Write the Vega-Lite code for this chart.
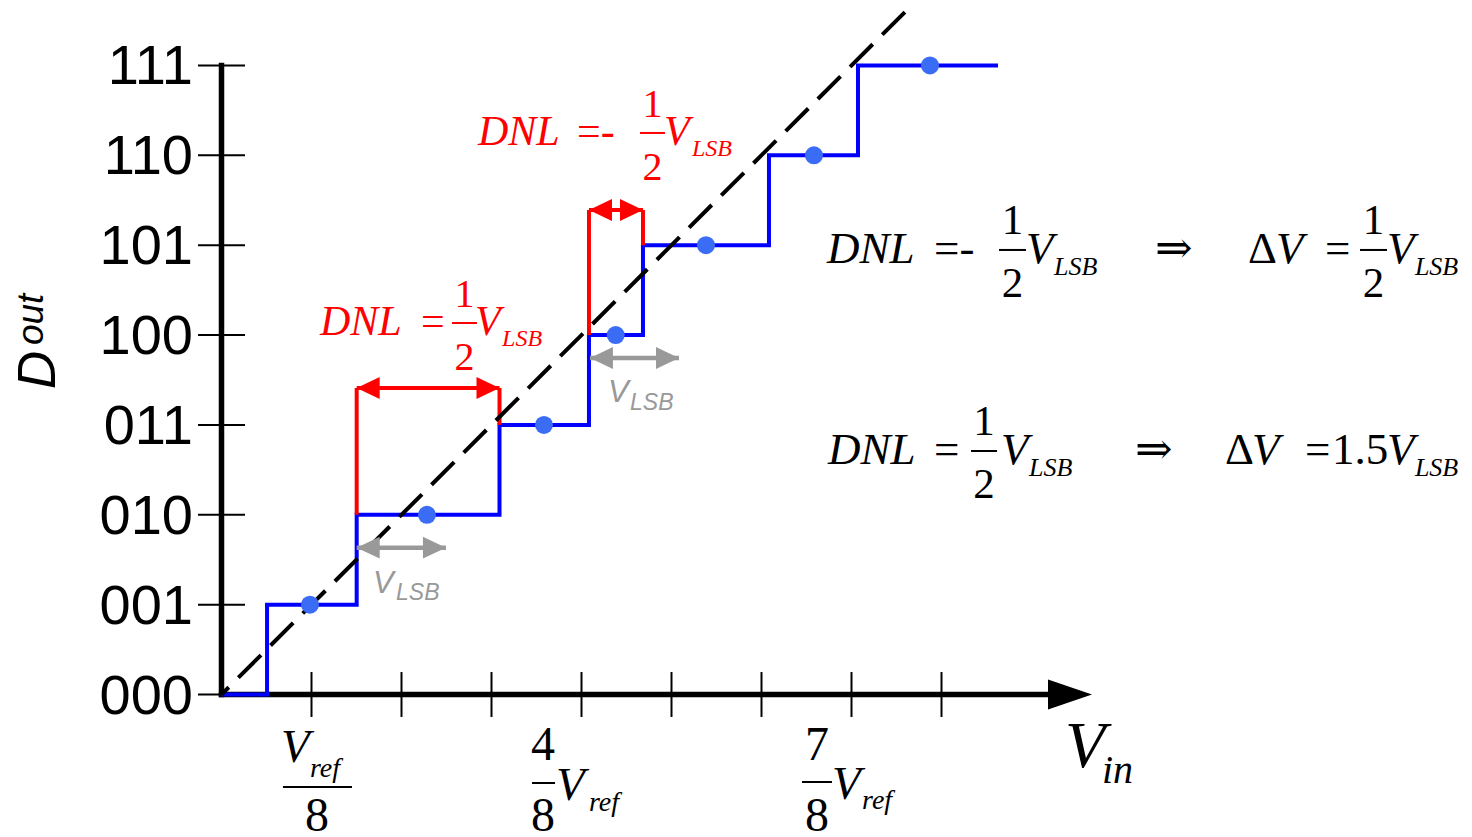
{
  "$schema": "https://vega.github.io/schema/vega-lite/v6.json",
  "width": 1472,
  "height": 837,
  "autosize": "none",
  "padding": 0,
  "background": "white",
  "config": {"view": {"stroke": null}},
  "encoding": {
    "x": {"field": "x", "type": "quantitative", "scale": {"domain": [-2.4611, 13.8944], "nice": false, "zero": false}, "axis": null},
    "y": {"field": "y", "type": "quantitative", "scale": {"domain": [-1.5858, 7.7287], "nice": false, "zero": false}, "axis": null}
  },
  "layer": [
    {
      "description": "axis lines (input voltage in LSB units, output code)",
      "data": {"values": [
        {"x": 0, "y": -0.03, "x2": 0, "y2": 7.03},
        {"x": -0.03, "y": 0, "x2": 9.25, "y2": 0}
      ]},
      "mark": {"type": "rule", "color": "#000000", "strokeWidth": 5.5},
      "encoding": {"x2": {"field": "x2"}, "y2": {"field": "y2"}}
    },
    {
      "description": "tick marks",
      "data": {"values": [
        {"x": -0.261, "x2": 0.261, "y": 0, "y2": 0},
        {"x": -0.261, "x2": 0.261, "y": 1, "y2": 1},
        {"x": -0.261, "x2": 0.261, "y": 2, "y2": 2},
        {"x": -0.261, "x2": 0.261, "y": 3, "y2": 3},
        {"x": -0.261, "x2": 0.261, "y": 4, "y2": 4},
        {"x": -0.261, "x2": 0.261, "y": 5, "y2": 5},
        {"x": -0.261, "x2": 0.261, "y": 6, "y2": 6},
        {"x": -0.261, "x2": 0.261, "y": 7, "y2": 7},
        {"x": 1, "x2": 1, "y": -0.25, "y2": 0.25},
        {"x": 2, "x2": 2, "y": -0.25, "y2": 0.25},
        {"x": 3, "x2": 3, "y": -0.25, "y2": 0.25},
        {"x": 4, "x2": 4, "y": -0.25, "y2": 0.25},
        {"x": 5, "x2": 5, "y": -0.25, "y2": 0.25},
        {"x": 6, "x2": 6, "y": -0.25, "y2": 0.25},
        {"x": 7, "x2": 7, "y": -0.25, "y2": 0.25},
        {"x": 8, "x2": 8, "y": -0.25, "y2": 0.25}
      ]},
      "mark": {"type": "rule", "color": "#000000", "strokeWidth": 2},
      "encoding": {"x2": {"field": "x2"}, "y2": {"field": "y2"}}
    },
    {
      "description": "ADC transfer characteristic (staircase)",
      "data": {"values": [
        {"i": 0, "x": 0, "y": 0},
        {"i": 1, "x": 0.506, "y": 0},
        {"i": 2, "x": 0.506, "y": 1},
        {"i": 3, "x": 1.502, "y": 1},
        {"i": 4, "x": 1.502, "y": 2},
        {"i": 5, "x": 3.089, "y": 2},
        {"i": 6, "x": 3.089, "y": 3},
        {"i": 7, "x": 4.083, "y": 3},
        {"i": 8, "x": 4.083, "y": 4},
        {"i": 9, "x": 4.683, "y": 4},
        {"i": 10, "x": 4.683, "y": 5},
        {"i": 11, "x": 6.083, "y": 5},
        {"i": 12, "x": 6.083, "y": 6},
        {"i": 13, "x": 7.072, "y": 6},
        {"i": 14, "x": 7.072, "y": 7},
        {"i": 15, "x": 8.628, "y": 7}
      ]},
      "mark": {"type": "line", "color": "#0000ff", "strokeWidth": 4, "strokeJoin": "miter"},
      "encoding": {"order": {"field": "i", "type": "quantitative"}}
    },
    {
      "description": "DNL brackets",
      "data": {"values": [
        {"x": 1.502, "y": 2, "x2": 1.502, "y2": 3.411},
        {"x": 3.089, "y": 3, "x2": 3.089, "y2": 3.411},
        {"x": 1.502, "y": 3.411, "x2": 3.089, "y2": 3.411},
        {"x": 4.083, "y": 4, "x2": 4.083, "y2": 5.392},
        {"x": 4.683, "y": 5, "x2": 4.683, "y2": 5.392},
        {"x": 4.083, "y": 5.392, "x2": 4.683, "y2": 5.392}
      ]},
      "mark": {"type": "rule", "color": "#ff0000", "strokeWidth": 4},
      "encoding": {"x2": {"field": "x2"}, "y2": {"field": "y2"}}
    },
    {
      "description": "one-LSB reference spans",
      "data": {"values": [
        {"x": 1.502, "y": 1.634, "x2": 2.494, "y2": 1.634},
        {"x": 4.094, "y": 3.745, "x2": 5.083, "y2": 3.745}
      ]},
      "mark": {"type": "rule", "color": "#999999", "strokeWidth": 4.5},
      "encoding": {"x2": {"field": "x2"}, "y2": {"field": "y2"}}
    },
    {
      "description": "ideal transfer line",
      "data": {"values": [
        {"x": 0, "y": 0},
        {"x": 7.594, "y": 7.595}
      ]},
      "mark": {"type": "line", "color": "#000000", "strokeWidth": 4, "strokeDash": [32, 13.5], "strokeDashOffset": 21.7},
      "encoding": {}
    },
    {
      "description": "DNL arrow heads",
      "data": {"values": [
        {"x": 1.502, "y": 3.411, "dir": "left"},
        {"x": 3.089, "y": 3.411, "dir": "right"},
        {"x": 4.083, "y": 5.392, "dir": "left"},
        {"x": 4.683, "y": 5.392, "dir": "right"}
      ]},
      "mark": {"type": "point", "filled": true, "color": "#ff0000", "opacity": 1, "size": 529, "strokeWidth": 0},
      "encoding": {"shape": {"field": "dir", "type": "nominal", "legend": null, "scale": {"domain": ["left", "right"], "range": ["M 0 0 L 2 -0.95 L 2 0.95 Z", "M 0 0 L -2 -0.95 L -2 0.95 Z"]}}}
    },
    {
      "description": "LSB arrow heads",
      "data": {"values": [
        {"x": 1.502, "y": 1.634, "dir": "left"},
        {"x": 2.494, "y": 1.634, "dir": "right"},
        {"x": 4.094, "y": 3.745, "dir": "left"},
        {"x": 5.083, "y": 3.745, "dir": "right"}
      ]},
      "mark": {"type": "point", "filled": true, "color": "#999999", "opacity": 1, "size": 529, "strokeWidth": 0},
      "encoding": {"shape": {"field": "dir", "type": "nominal", "legend": null, "scale": {"domain": ["left", "right"], "range": ["M 0 0 L 2 -0.95 L 2 0.95 Z", "M 0 0 L -2 -0.95 L -2 0.95 Z"]}}}
    },
    {
      "description": "arrow head of the input axis",
      "data": {"values": [{"x": 9.428, "y": 0}]},
      "mark": {"type": "point", "filled": true, "color": "#000000", "opacity": 1, "size": 1936, "strokeWidth": 0, "shape": "M -1 -0.68 L 1 0 L -1 0.68 Z"}
    },
    {
      "description": "code centre points",
      "data": {"values": [
        {"x": 0.983, "y": 1},
        {"x": 2.283, "y": 2},
        {"x": 3.583, "y": 3},
        {"x": 4.38, "y": 4},
        {"x": 5.383, "y": 5},
        {"x": 6.583, "y": 6},
        {"x": 7.872, "y": 7}
      ]},
      "mark": {"type": "point", "shape": "circle", "filled": true, "color": "#3b6cf5", "opacity": 1, "size": 324, "strokeWidth": 0}
    },
    {
      "description": "fraction bars",
      "data": {"values": [
        {"x": 4.65, "x2": 4.928, "y": 6.249, "ink": "red"},
        {"x": 2.561, "x2": 2.839, "y": 4.134, "ink": "red"},
        {"x": 8.639, "x2": 8.939, "y": 4.947, "ink": "black"},
        {"x": 12.65, "x2": 12.95, "y": 4.947, "ink": "black"},
        {"x": 8.328, "x2": 8.617, "y": 2.71, "ink": "black"},
        {"x": 0.683, "x2": 1.45, "y": -1.029, "ink": "black"},
        {"x": 3.45, "x2": 3.706, "y": -0.985, "ink": "black"},
        {"x": 6.45, "x2": 6.783, "y": -0.974, "ink": "black"}
      ]},
      "mark": {"type": "rule", "strokeWidth": 2},
      "encoding": {
        "x2": {"field": "x2"},
        "color": {"field": "ink", "type": "nominal", "legend": null, "scale": {"domain": ["red", "black"], "range": ["#ff0000", "#000000"]}}
      }
    },
    {
      "data": {"values": [
        {"x": 2.85, "y": 6.115, "t": "DNL"},
        {"x": 4.917, "y": 6.115, "t": "V"},
        {"x": 1.094, "y": 4.0, "t": "DNL"},
        {"x": 2.817, "y": 4.0, "t": "V"}
      ]},
      "mark": {"type": "text", "font": "Liberation Serif", "fontStyle": "italic", "fontSize": 42, "color": "#ff0000", "align": "left", "baseline": "alphabetic"},
      "encoding": {"text": {"field": "t"}}
    },
    {
      "data": {"values": [
        {"x": 3.95, "y": 6.115, "t": "=-"},
        {"x": 2.217, "y": 4.0, "t": "="}
      ]},
      "mark": {"type": "text", "font": "Liberation Serif", "fontSize": 42, "color": "#ff0000", "align": "left", "baseline": "alphabetic"},
      "encoding": {"text": {"field": "t"}}
    },
    {
      "data": {"values": [
        {"x": 4.789, "y": 6.427, "t": "1"},
        {"x": 4.789, "y": 5.726, "t": "2"},
        {"x": 2.7, "y": 4.312, "t": "1"},
        {"x": 2.7, "y": 3.611, "t": "2"}
      ]},
      "mark": {"type": "text", "font": "Liberation Serif", "fontSize": 40, "color": "#ff0000", "align": "center", "baseline": "alphabetic"},
      "encoding": {"text": {"field": "t"}}
    },
    {
      "data": {"values": [
        {"x": 5.228, "y": 5.993, "t": "LSB"},
        {"x": 3.117, "y": 3.878, "t": "LSB"}
      ]},
      "mark": {"type": "text", "font": "Liberation Serif", "fontStyle": "italic", "fontSize": 24, "color": "#ff0000", "align": "left", "baseline": "alphabetic"},
      "encoding": {"text": {"field": "t"}}
    },
    {
      "data": {"values": [
        {"x": 6.728, "y": 4.802, "t": "DNL"},
        {"x": 8.939, "y": 4.802, "t": "V"},
        {"x": 11.717, "y": 4.802, "t": "V"},
        {"x": 12.95, "y": 4.802, "t": "V"},
        {"x": 6.739, "y": 2.565, "t": "DNL"},
        {"x": 8.661, "y": 2.565, "t": "V"},
        {"x": 11.45, "y": 2.565, "t": "V"},
        {"x": 12.95, "y": 2.565, "t": "V"}
      ]},
      "mark": {"type": "text", "font": "Liberation Serif", "fontStyle": "italic", "fontSize": 45, "color": "#000000", "align": "left", "baseline": "alphabetic"},
      "encoding": {"text": {"field": "t"}}
    },
    {
      "data": {"values": [
        {"x": 7.917, "y": 4.802, "t": "=-"},
        {"x": 10.372, "y": 4.802, "t": "⇒"},
        {"x": 11.406, "y": 4.802, "t": "Δ"},
        {"x": 12.261, "y": 4.802, "t": "="},
        {"x": 7.917, "y": 2.565, "t": "="},
        {"x": 10.15, "y": 2.565, "t": "⇒"},
        {"x": 11.15, "y": 2.565, "t": "Δ"},
        {"x": 12.04, "y": 2.565, "t": "="},
        {"x": 12.34, "y": 2.565, "t": "1.5"}
      ]},
      "mark": {"type": "text", "font": "Liberation Serif, DejaVu Serif", "fontSize": 45, "color": "#000000", "align": "left", "baseline": "alphabetic"},
      "encoding": {"text": {"field": "t"}}
    },
    {
      "data": {"values": [
        {"x": 8.789, "y": 5.125, "t": "1"},
        {"x": 8.789, "y": 4.424, "t": "2"},
        {"x": 12.8, "y": 5.125, "t": "1"},
        {"x": 12.8, "y": 4.424, "t": "2"},
        {"x": 8.472, "y": 2.888, "t": "1"},
        {"x": 8.472, "y": 2.187, "t": "2"}
      ]},
      "mark": {"type": "text", "font": "Liberation Serif", "fontSize": 43, "color": "#000000", "align": "center", "baseline": "alphabetic"},
      "encoding": {"text": {"field": "t"}}
    },
    {
      "data": {"values": [
        {"x": 9.25, "y": 4.669, "t": "LSB"},
        {"x": 13.26, "y": 4.669, "t": "LSB"},
        {"x": 8.972, "y": 2.432, "t": "LSB"},
        {"x": 13.26, "y": 2.432, "t": "LSB"}
      ]},
      "mark": {"type": "text", "font": "Liberation Serif", "fontStyle": "italic", "fontSize": 26, "color": "#000000", "align": "left", "baseline": "alphabetic"},
      "encoding": {"text": {"field": "t"}}
    },
    {
      "data": {"values": [
        {"x": 1.683, "y": 1.13, "t": "V"},
        {"x": 4.294, "y": 3.255, "t": "V"}
      ]},
      "mark": {"type": "text", "font": "Liberation Sans", "fontStyle": "italic", "fontSize": 31, "color": "#999999", "align": "left", "baseline": "alphabetic"},
      "encoding": {"text": {"field": "t"}}
    },
    {
      "data": {"values": [
        {"x": 1.939, "y": 1.052, "t": "LSB"},
        {"x": 4.539, "y": 3.166, "t": "LSB"}
      ]},
      "mark": {"type": "text", "font": "Liberation Sans", "fontStyle": "italic", "fontSize": 23, "color": "#999999", "align": "left", "baseline": "alphabetic"},
      "encoding": {"text": {"field": "t"}}
    },
    {
      "description": "input axis tick labels",
      "data": {"values": [
        {"x": 0.661, "y": -0.751, "t": "V"},
        {"x": 3.717, "y": -1.174, "t": "V"},
        {"x": 6.783, "y": -1.163, "t": "V"}
      ]},
      "mark": {"type": "text", "font": "Liberation Serif", "fontStyle": "italic", "fontSize": 47, "color": "#000000", "align": "left", "baseline": "alphabetic"},
      "encoding": {"text": {"field": "t"}}
    },
    {
      "data": {"values": [
        {"x": 0.983, "y": -0.918, "t": "ref"},
        {"x": 4.083, "y": -1.297, "t": "ref"},
        {"x": 7.117, "y": -1.274, "t": "ref"}
      ]},
      "mark": {"type": "text", "font": "Liberation Serif", "fontStyle": "italic", "fontSize": 28, "color": "#000000", "align": "left", "baseline": "alphabetic"},
      "encoding": {"text": {"field": "t"}}
    },
    {
      "data": {"values": [
        {"x": 1.061, "y": -1.52, "t": "8"},
        {"x": 3.572, "y": -0.729, "t": "4"},
        {"x": 3.572, "y": -1.52, "t": "8"},
        {"x": 6.617, "y": -0.729, "t": "7"},
        {"x": 6.617, "y": -1.52, "t": "8"}
      ]},
      "mark": {"type": "text", "font": "Liberation Serif", "fontSize": 48, "color": "#000000", "align": "center", "baseline": "alphabetic"},
      "encoding": {"text": {"field": "t"}}
    },
    {
      "description": "input axis title",
      "data": {"values": [{"x": 9.372, "y": -0.807, "t": "V"}]},
      "mark": {"type": "text", "font": "Liberation Serif", "fontStyle": "italic", "fontSize": 66, "color": "#000000", "align": "left", "baseline": "alphabetic"},
      "encoding": {"text": {"field": "t"}}
    },
    {
      "data": {"values": [{"x": 9.783, "y": -0.985, "t": "in"}]},
      "mark": {"type": "text", "font": "Liberation Serif", "fontStyle": "italic", "fontSize": 40, "color": "#000000", "align": "left", "baseline": "alphabetic"},
      "encoding": {"text": {"field": "t"}}
    },
    {
      "description": "output code labels",
      "data": {"values": [
        {"x": -0.317, "y": 0, "t": "000"},
        {"x": -0.317, "y": 1, "t": "001"},
        {"x": -0.317, "y": 2, "t": "010"},
        {"x": -0.317, "y": 3, "t": "011"},
        {"x": -0.317, "y": 4, "t": "100"},
        {"x": -0.317, "y": 5, "t": "101"},
        {"x": -0.317, "y": 6, "t": "110"},
        {"x": -0.317, "y": 7, "t": "111"}
      ]},
      "mark": {"type": "text", "font": "Liberation Sans", "fontSize": 56, "color": "#000000", "align": "right", "baseline": "middle", "dy": 2},
      "encoding": {"text": {"field": "t"}}
    },
    {
      "description": "output axis title",
      "data": {"values": [{"x": -1.85, "y": 3.4, "t": "D"}]},
      "mark": {"type": "text", "font": "Liberation Sans", "fontStyle": "italic", "fontSize": 53, "angle": 270, "color": "#000000", "align": "left", "baseline": "alphabetic"},
      "encoding": {"text": {"field": "t"}}
    },
    {
      "data": {"values": [{"x": -1.983, "y": 3.889, "t": "out"}]},
      "mark": {"type": "text", "font": "Liberation Sans", "fontStyle": "italic", "fontSize": 37, "angle": 270, "color": "#000000", "align": "left", "baseline": "alphabetic"},
      "encoding": {"text": {"field": "t"}}
    }
  ]
}
